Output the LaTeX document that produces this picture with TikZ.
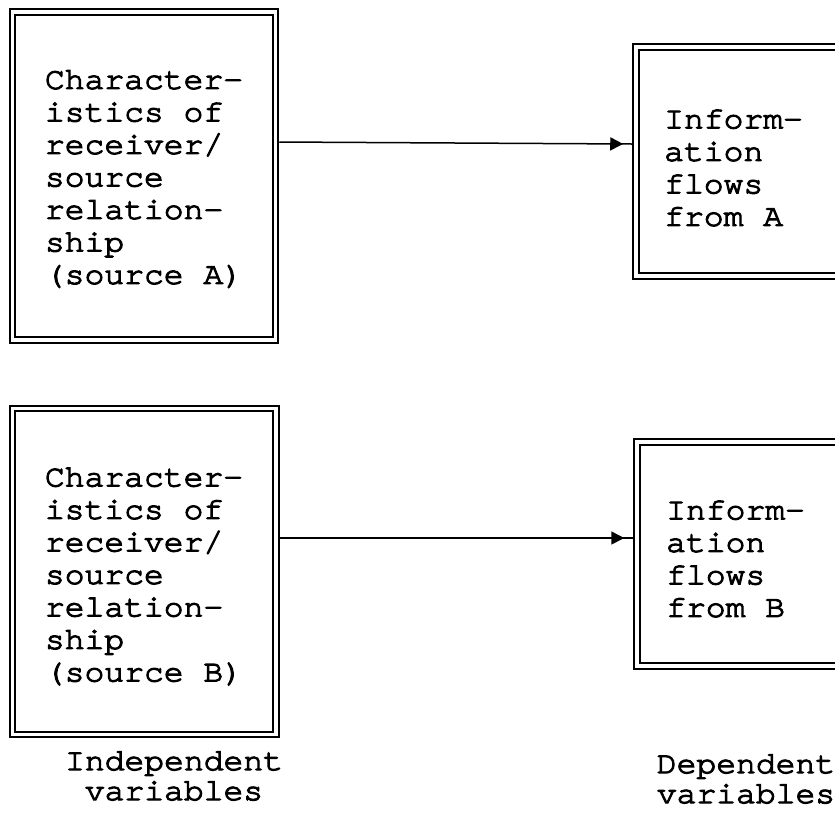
\documentclass[tikz,border=0pt]{standalone}
\usepackage{fontspec}
\newfontfamily\scanmono[FakeStretch=1.065,FakeBold=3.5,Ligatures=NoCommon]{texgyrecursor-regular.otf}
\usetikzlibrary{arrows.meta,decorations.markings}
\begin{document}
\begin{tikzpicture}[x=1pt,y=-1pt,
  dbox/.style={draw, double, line width=2pt, double distance=3.5pt, inner sep=0pt, outer sep=3.75pt, rectangle},
  txt/.style={font=\scanmono\fontsize{31}{32.5}\selectfont, align=left, inner sep=0pt},
  lbl/.style={font=\scanmono\fontsize{31}{30}\selectfont, align=center, inner sep=0pt},
  flow/.style={line width=1.5pt, postaction={decorate},
    decoration={markings, mark=at position -9pt with {\arrow{Triangle[length=13pt,width=13pt]}}}}
]
\useasboundingbox (0,0) rectangle (835,815);
\clip (0,0) rectangle (835,815);
% boxes
\node[dbox, minimum width=263pt, minimum height=328pt] (ca) at (144,176) {};
\node[dbox, minimum width=264pt, minimum height=229pt] (ia) at (768,161.5) {};
\node[dbox, minimum width=263.5pt, minimum height=326pt] (cb) at (144,571.5) {};
\node[dbox, minimum width=264pt, minimum height=224pt] (ib) at (769,554) {};
% texts
\node[txt] (tca) at (144,179) {Character-\\istics of\\receiver/\\source\\relation-\\ship\\(source A)};
\node[txt] (tcb) at (144,576.5) {Character-\\istics of\\receiver/\\source\\relation-\\ship\\(source B)};
\node[txt, anchor=west] (tia) at (664,168) {Inform-\\ation\\flows\\from A};
\node[txt, anchor=west] (tib) at (666,559) {Inform-\\ation\\flows\\from B};
% labels
\node[lbl] (iv) at (174,776) {Independent\\variables};
\node[lbl] (dv) at (746,779) {Dependent\\variables};
% connectors
\draw[flow] (ca.east |- 0,142) -- (ia.west |- 0,144);
\draw[flow] (cb.east |- 0,538) -- (ib.west |- 0,538);
\end{tikzpicture}
\end{document}
